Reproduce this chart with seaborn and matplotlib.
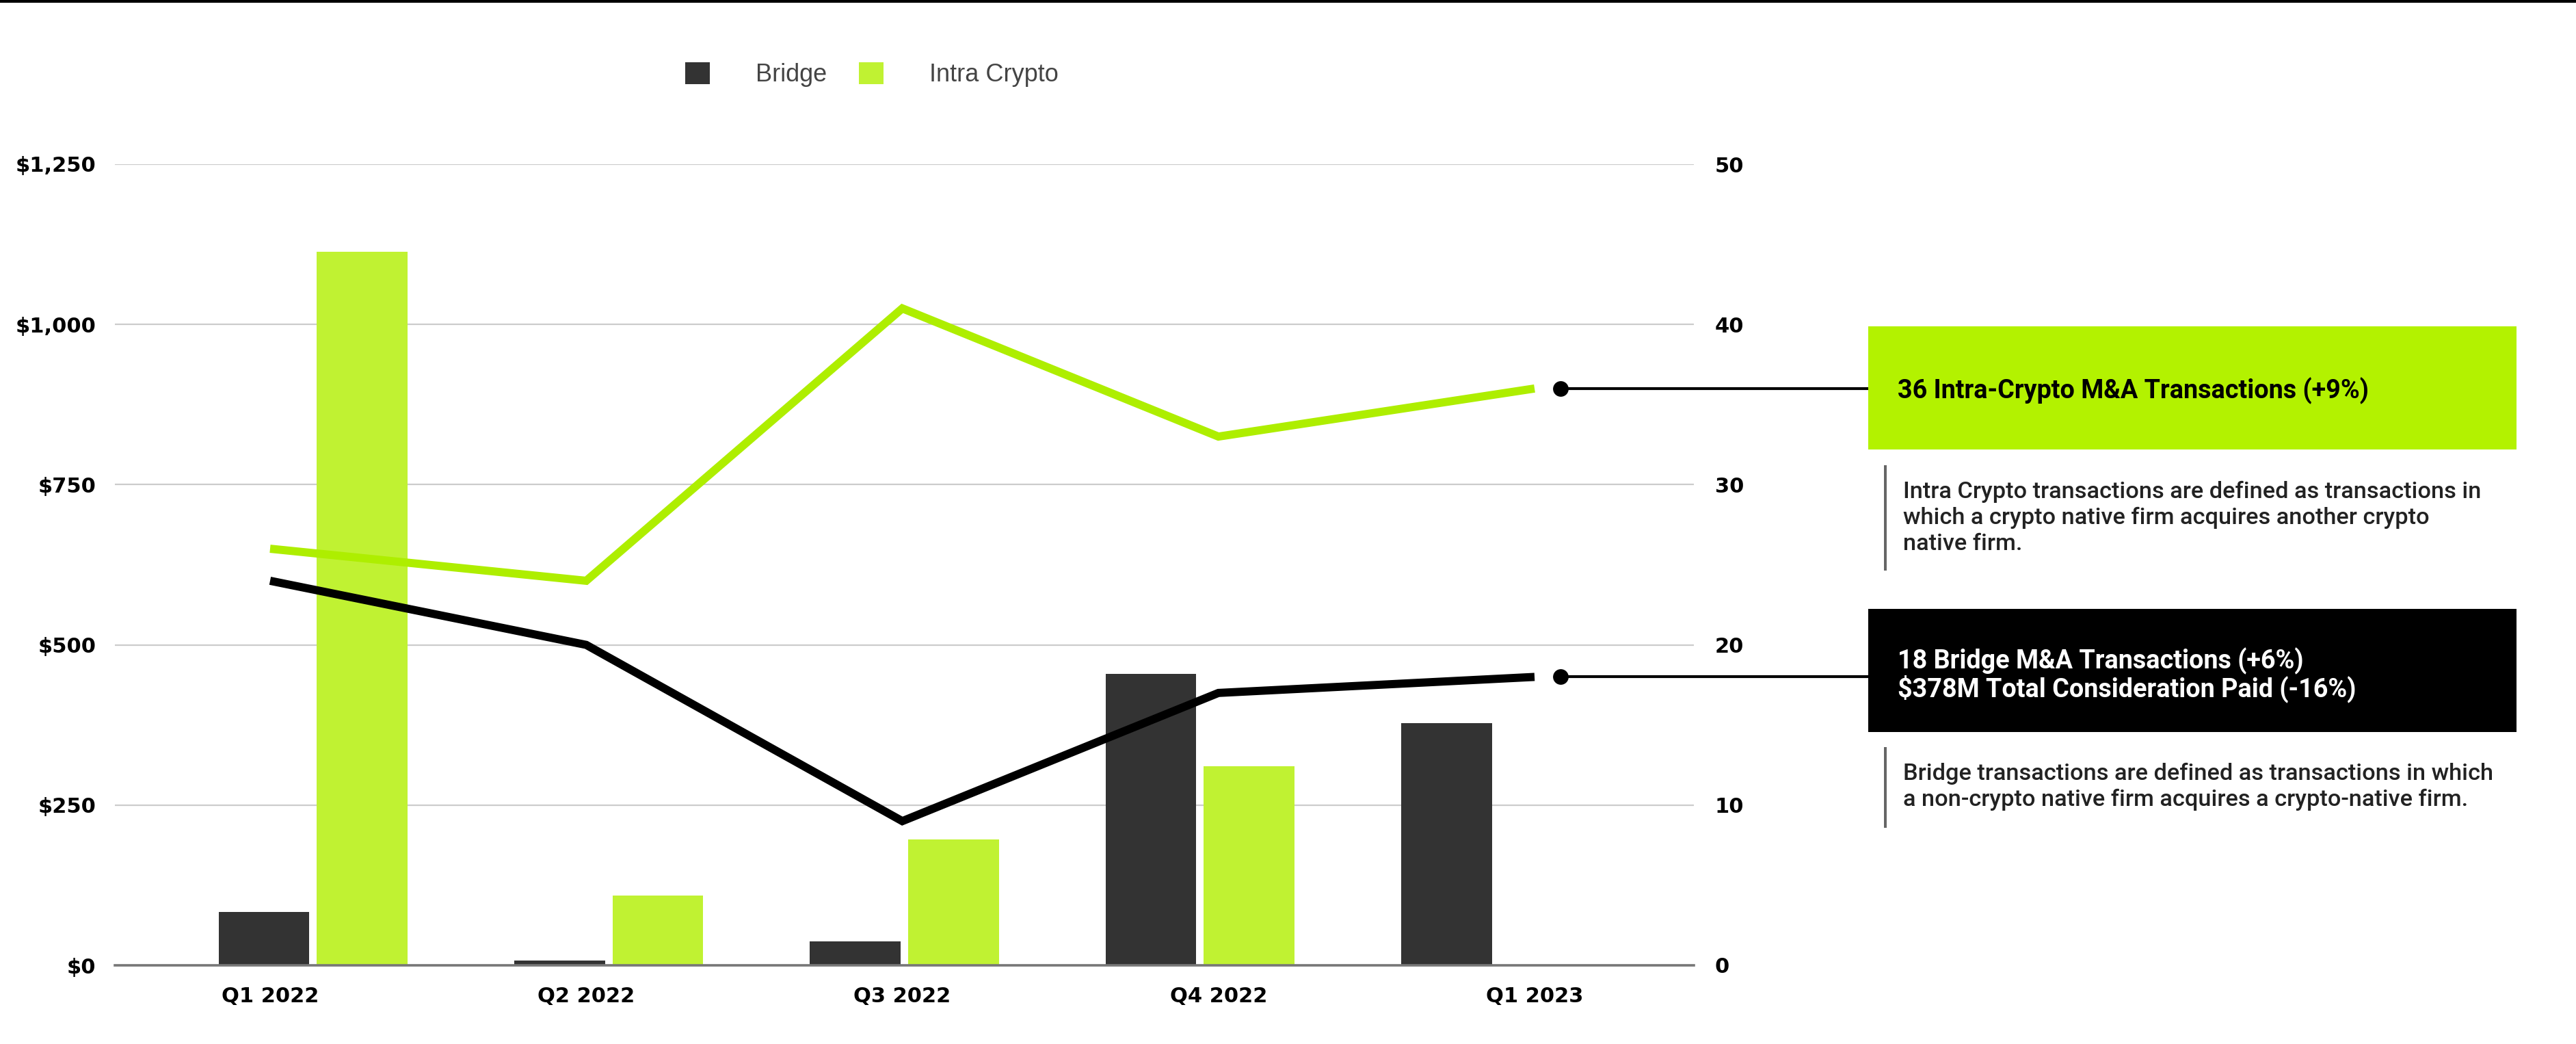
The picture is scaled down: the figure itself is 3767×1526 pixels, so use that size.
import numpy as np
import pandas as pd
import matplotlib
matplotlib.use("Agg")
import matplotlib.pyplot as plt
import matplotlib.transforms as mtransforms
from matplotlib.patches import Rectangle
import seaborn as sns

# ---------------- data ----------------
quarters = ["Q1 2022", "Q2 2022", "Q3 2022", "Q4 2022", "Q1 2023"]
series_names = ["Bridge", "Intra Crypto"]
bridge_value = [83, 8, 37, 455, 378]        # $M consideration paid
intra_value = [1113, 109, 196, 311, 0]      # $M consideration paid
bridge_count = [24, 20, 9, 17, 18]          # number of transactions
intra_count = [26, 24, 41, 33, 36]          # number of transactions
left_ticks = [0, 250, 500, 750, 1000, 1250]
left_labels = ["$0", "$250", "$500", "$750", "$1,000", "$1,250"]
right_ticks = [0, 10, 20, 30, 40, 50]
right_labels = ["0", "10", "20", "30", "40", "50"]

intra_title = "36 Intra-Crypto M&A Transactions (+9%)"
intra_desc = ["Intra Crypto transactions are defined as transactions in",
              "which a crypto native firm acquires another crypto",
              "native firm."]
bridge_title = ["18 Bridge M&A Transactions (+6%)",
                "$378M Total Consideration Paid (-16%)"]
bridge_desc = ["Bridge transactions are defined as transactions in which",
               "a non-crypto native firm acquires a crypto-native firm."]

# ---------------- style ----------------
BAR_DARK = "#333333"
BAR_GREEN = "#C0F232"
LINE_GREEN = "#AEEE00"
BOX_GREEN = "#B3F200"

sns.set_style("white")
plt.rcParams["font.family"] = ["DejaVu Sans"]

W, H = 3767, 1526
DPI = 200
fig = plt.figure(figsize=(W / DPI, H / DPI), dpi=DPI)
fig.patch.set_facecolor("white")

ax_l, ax_r, ax_b, ax_t = 168, 2477, 1411, 240
rect = [ax_l / W, 1 - ax_b / H, (ax_r - ax_l) / W, (ax_b - ax_t) / H]
ax = fig.add_axes(rect)

df = pd.DataFrame({
    "quarter": quarters * 2,
    "type": [series_names[0]] * len(quarters) + [series_names[1]] * len(quarters),
    "value": bridge_value + intra_value,
})

sns.barplot(data=df, x="quarter", y="value", hue="type", order=quarters,
            hue_order=series_names, palette=[BAR_DARK, BAR_GREEN],
            saturation=1, width=0.664, gap=0.077, linewidth=0, ax=ax)

ax.set_xlim(-0.67, 4.67)
ax.set_ylim(0, 1250)
ax.set_yticks(left_ticks)
ax.set_yticklabels(left_labels)
ax.set_xlabel("")
ax.set_ylabel("")
ax.set_axisbelow(True)
ax.grid(axis="y", color="#cccccc", linewidth=0.8)
ax.grid(axis="x", visible=False)
for s in ["top", "right", "left"]:
    ax.spines[s].set_visible(False)
ax.spines["bottom"].set_color("#777777")
ax.spines["bottom"].set_linewidth(1.3)
ax.tick_params(axis="y", length=0, pad=10, labelsize=11)
ax.tick_params(axis="x", length=0, labelbottom=False)
for lab in ax.get_yticklabels():
    lab.set_fontweight("bold")
    lab.set_color("black")

# legend
sns.move_legend(ax, "center left", bbox_to_anchor=(1002 / W, 1 - 109 / H),
                bbox_transform=fig.transFigure, ncol=2, frameon=False, title=None,
                borderpad=0, borderaxespad=0, handlelength=1.0, handleheight=1.0,
                handletextpad=1.85, columnspacing=1.3,
                prop={"family": ["Liberation Sans", "DejaVu Sans"], "size": 13})
for t in ax.get_legend().get_texts():
    t.set_color("#444444")

# ---------------- line overlay ----------------
ax2 = fig.add_axes(rect)
ax2.patch.set_alpha(0)
idx = np.arange(len(quarters))
sns.lineplot(x=idx, y=intra_count, ax=ax2, color=LINE_GREEN, linewidth=4.3,
             solid_capstyle="butt", solid_joinstyle="miter")
sns.lineplot(x=idx, y=bridge_count, ax=ax2, color="black", linewidth=4.3,
             solid_capstyle="butt", solid_joinstyle="miter")
ax2.set_xlim(-0.491, 4.504)
ax2.set_ylim(0, 50)
ax2.set_xticks(idx)
ax2.set_xticklabels(quarters)
ax2.tick_params(axis="x", length=0, pad=11, labelsize=11)
ax2.yaxis.tick_right()
ax2.set_yticks(right_ticks)
ax2.set_yticklabels(right_labels)
ax2.tick_params(axis="y", length=0, pad=11, labelsize=11)
for lab in ax2.get_yticklabels() + ax2.get_xticklabels():
    lab.set_fontweight("bold")
    lab.set_color("black")
for s in ax2.spines.values():
    s.set_visible(False)
ax2.set_xlabel("")
ax2.set_ylabel("")

# connectors from last points to boxes
trans = mtransforms.blended_transform_factory(fig.transFigure, ax2.transData)
dot_x = 2282 / W
box_x = 2732 / W
for val in [intra_count[-1], bridge_count[-1]]:
    ax2.plot([dot_x, box_x], [val, val], color="black", linewidth=1.5,
             transform=trans, clip_on=False, solid_capstyle="butt")
    ax2.plot([dot_x], [val], "o", color="black", markersize=7.2,
             transform=trans, clip_on=False)

# ---------------- annotation boxes ----------------
box_w = (3680 - 2732) / W
fig.add_artist(Rectangle((box_x, 1 - 657 / H), box_w, 180 / H,
                         transform=fig.transFigure, facecolor=BOX_GREEN,
                         edgecolor="none"))
fig.add_artist(Rectangle((box_x, 1 - 1070 / H), box_w, 180 / H,
                         transform=fig.transFigure, facecolor="black",
                         edgecolor="none"))

title_font = {"family": ["Roboto", "DejaVu Sans"], "size": 13.6, "weight": "bold"}
desc_font = {"family": ["Roboto", "DejaVu Sans"], "size": 12.4, "weight": "medium"}

fig.text(2775 / W, 1 - 571 / H, intra_title, ha="left", va="center",
         color="black", **title_font)
for i, line in enumerate(bridge_title):
    fig.text(2775 / W, 1 - (966 + 41 * i) / H, line, ha="left", va="center",
             color="white", **title_font)

# grey side bars and descriptions
fig.add_artist(Rectangle((2755 / W, 1 - 834 / H), 4 / W, 154 / H,
                         transform=fig.transFigure, facecolor="#666666",
                         edgecolor="none"))
for i, line in enumerate(intra_desc):
    fig.text(2783 / W, 1 - (719 + 38 * i) / H, line, ha="left", va="center",
             color="#222222", **desc_font)
fig.add_artist(Rectangle((2755 / W, 1 - 1210 / H), 4 / W, 118 / H,
                         transform=fig.transFigure, facecolor="#666666",
                         edgecolor="none"))
for i, line in enumerate(bridge_desc):
    fig.text(2783 / W, 1 - (1131 + 38 * i) / H, line, ha="left", va="center",
             color="#222222", **desc_font)

# top rule
fig.add_artist(Rectangle((0, 1 - 4 / H), 1, 4 / H, transform=fig.transFigure,
                         facecolor="black", edgecolor="none"))

fig.savefig("out.png", dpi=DPI, facecolor="white")
